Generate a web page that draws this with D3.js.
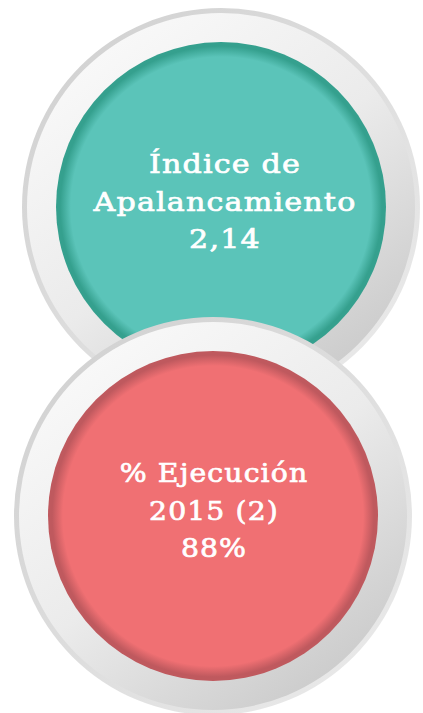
<!DOCTYPE html>
<html>
<head>
<meta charset="utf-8">
<script src="https://cdn.jsdelivr.net/npm/d3@7"></script>
<style>
  html, body { margin: 0; padding: 0; background: #fff; }
  svg { display: block; }
</style>
</head>
<body>
<div id="chart"></div>
<script>
	const items = ['indice', 'ejecucion']
	const labels = [
		['Índice de', 'Apalancamiento', '2,14'],
		['% Ejecución', '2015 (2)', '88%']
	]
	const fills = ['#5bc4b9', '#f07073']
	const edges = ['#35a08e', '#bf595e']

	const width = 423
	const height = 713
	const rOuter = 199
	const rRing = 194
	const rInner = 165

	const svg = d3.select('#chart')
		.append('svg')
		.attr('width', width)
		.attr('height', height)
		.attr('viewBox', `0 0 ${width} ${height}`)

	const defs = svg.append('defs')

	// rim: darker top-left, lighter bottom-right
	const rim = defs.append('linearGradient')
		.attr('id', 'rim')
		.attr('x1', '0').attr('y1', '0').attr('x2', '1').attr('y2', '1')
	rim.append('stop').attr('offset', '0').attr('stop-color', '#cfcfcf')
	rim.append('stop').attr('offset', '1').attr('stop-color', '#ececec')

	// ring body: white top-left, grey bottom-right
	const ring = defs.append('linearGradient')
		.attr('id', 'ring')
		.attr('x1', '0.2').attr('y1', '0.1').attr('x2', '0.8').attr('y2', '0.9')
	ring.append('stop').attr('offset', '0').attr('stop-color', '#f8f8f8')
	ring.append('stop').attr('offset', '0.5').attr('stop-color', '#ebebeb')
	ring.append('stop').attr('offset', '1').attr('stop-color', '#cdcdcd')

	items.forEach((k, i) => {
		const g = defs.append('radialGradient').attr('id', `disk-${k}`)
		g.append('stop').attr('offset', '0.91').attr('stop-color', fills[i])
		g.append('stop').attr('offset', '0.975').attr('stop-color', edges[i])
		g.append('stop').attr('offset', '1').attr('stop-color', edges[i])
	})

	const sc = d3.scaleLinear().domain([0, 1])
	const x = sc.copy().range([221, 213])
	const y = sc.copy().range([207, 516])

	const badges = svg.selectAll('g.badge')
		.data(items)
		.enter()
		.append('g')
		.attr('class', 'badge')
		.attr('transform', (_, i) => `translate(${x(i)}, ${y(i)})`)

	badges.append('circle').attr('r', rOuter).attr('fill', 'url(#rim)')
	badges.append('circle').attr('r', rRing).attr('fill', 'url(#ring)')
	badges.append('circle').attr('r', rInner).attr('fill', (k) => `url(#disk-${k})`)

	// the original face is a wide slab serif, so stretch DejaVu Serif a bit
	const lineH = 37.5
	badges.append('g')
		.attr('transform', (_, i) => i === 0 ? 'translate(4, 0) scale(1.16, 1)' : 'translate(1, 0) scale(1.09, 1)')
		.append('text')
		.attr('text-anchor', 'middle')
		.attr('fill', '#fff')
		.attr('stroke', '#fff')
		.attr('stroke-width', 0.7)
		.style('font-family', '"DejaVu Serif", serif')
		.style('font-size', '26px')
		.style('letter-spacing', '1px')
		.selectAll('tspan')
		.data((_, i) => labels[i])
		.enter()
		.append('tspan')
		.attr('x', 0)
		.attr('y', (_, j) => -34 + j * lineH)
		.text((d) => d)
</script>
</body>
</html>
